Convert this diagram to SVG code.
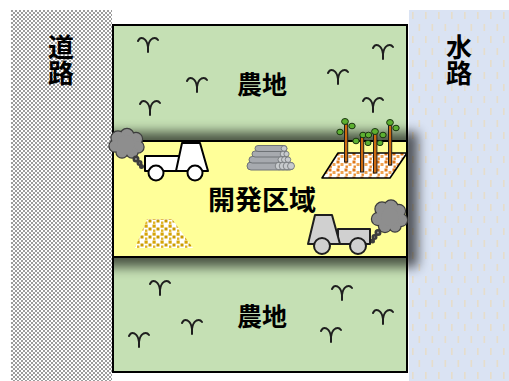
<svg xmlns="http://www.w3.org/2000/svg" width="509" height="381" viewBox="0 0 509 381">
  <defs>
    <pattern id="checker" x="11" y="10" width="4" height="4" patternUnits="userSpaceOnUse">
      <rect width="4" height="4" fill="#ffffff"/>
      <rect width="2" height="2" fill="#9c9c9c"/>
      <rect x="2" y="2" width="2" height="2" fill="#9c9c9c"/>
    </pattern>
    <pattern id="ripple" x="409" y="10" width="13" height="24" patternUnits="userSpaceOnUse">
      <rect width="13" height="24" fill="#dae3f3"/>
      <rect x="3" y="2" width="1.6" height="7" fill="#e6ddcb"/>
      <rect x="9.5" y="14" width="1.6" height="7" fill="#e6ddcb"/>
    </pattern>
    <pattern id="soil" width="8" height="8" patternUnits="userSpaceOnUse">
      <rect width="8" height="8" fill="#ffffff"/>
      <rect x="0.5" y="0.5" width="3" height="3" fill="#e07818"/>
      <rect x="4.5" y="3" width="3" height="3" fill="#f0a452"/>
      <rect x="1.5" y="5.5" width="2.4" height="2.4" fill="#e88a2c"/>
    </pattern>
    <pattern id="sand" width="8" height="8" patternUnits="userSpaceOnUse">
      <rect width="8" height="8" fill="#ffffff"/>
      <rect x="0.5" y="0.5" width="3.2" height="3.2" fill="#d6a406"/>
      <rect x="4.5" y="3.5" width="3" height="3" fill="#c99a00"/>
      <rect x="1" y="5.5" width="2.4" height="2.4" fill="#e0b424"/>
    </pattern>
    <filter id="soft" x="-20%" y="-30%" width="140%" height="160%">
      <feGaussianBlur stdDeviation="6"/>
    </filter>
    <path id="tuft" d="M0,8 V1 M-10,-3 Q-8,-7 -4.5,-5.5 Q-0.5,-3 0,3 M10,-4 Q8,-7 4.5,-5.5 Q0.5,-3 0,3"/>
  </defs>
  <style>
    .label { font-family: "Noto Sans CJK JP", "Noto Sans CJK SC", sans-serif; font-weight: 700; fill: #000; text-anchor: middle; }
    .vlabel { writing-mode: vertical-rl; }
    .tuft { fill: none; stroke: #1e1e1e; stroke-width: 2; stroke-linecap: round; }
    .truck-w { fill: #ffffff; stroke: #000; stroke-width: 2; stroke-linejoin: round; }
    .truck-g { fill: #d0d0d0; stroke: #1e1e1e; stroke-width: 2; stroke-linejoin: round; }
    .smoke-o { fill: #8e8e8e; stroke: #3c3c3c; stroke-width: 2.4; }
    .smoke-f { fill: #8e8e8e; }
    .log { fill: #a7aaaf; stroke: #6e7276; stroke-width: 1; }
    .logend { fill: #c8cbce; stroke: #6e7276; stroke-width: 0.8; }
    .trunk { fill: #cc6a10; stroke: #1e1e1e; stroke-width: 1; }
    .leaf { fill: #5cb030; stroke: #1a3510; stroke-width: 1; }
  </style>

  <rect width="509" height="381" fill="#ffffff"/>

  <!-- water channel -->
  <g id="waterway">
    <rect x="409" y="10" width="100" height="371" fill="url(#ripple)"/>
    <text class="label vlabel" x="459" y="60" font-size="26">水路</text>
  </g>

  <!-- farmland base -->
  <rect x="113" y="25" width="294" height="347" fill="#c5e0b4"/>

  <!-- shadow under the development band -->
  <rect x="100" y="132" width="318" height="135" fill="#000" opacity="0.62" filter="url(#soft)"/>

  <!-- development band -->
  <g id="dev-zone">
    <rect x="113" y="141" width="294" height="116" fill="#ffff99"/>
    <line x1="113" y1="141" x2="407" y2="141" stroke="#000" stroke-width="2"/>
    <line x1="113" y1="257" x2="407" y2="257" stroke="#000" stroke-width="2"/>
    <text class="label" x="262" y="210" font-size="27">開発区域</text>
  </g>

  <!-- road -->
  <g id="road">
    <rect x="11" y="10" width="101" height="371" fill="url(#checker)"/>
    <text class="label vlabel" x="61" y="60" font-size="26">道路</text>
  </g>

  <!-- field outline -->
  <rect x="113" y="25" width="294" height="347" fill="none" stroke="#000" stroke-width="2"/>

  <!-- upper farmland -->
  <g id="farm-top">
    <text class="label" x="262" y="94" font-size="25">農地</text>
    <use href="#tuft" class="tuft" x="148" y="44"/>
    <use href="#tuft" class="tuft" x="197" y="84"/>
    <use href="#tuft" class="tuft" x="150" y="107"/>
    <use href="#tuft" class="tuft" x="338" y="76"/>
    <use href="#tuft" class="tuft" x="383" y="51"/>
    <use href="#tuft" class="tuft" x="373" y="104"/>
  </g>

  <!-- lower farmland -->
  <g id="farm-bottom">
    <text class="label" x="262" y="326" font-size="25">農地</text>
    <use href="#tuft" class="tuft" x="160" y="287"/>
    <use href="#tuft" class="tuft" x="192" y="326"/>
    <use href="#tuft" class="tuft" x="139" y="339"/>
    <use href="#tuft" class="tuft" x="342" y="292"/>
    <use href="#tuft" class="tuft" x="383" y="316"/>
    <use href="#tuft" class="tuft" x="331" y="334"/>
  </g>

  <!-- white truck with exhaust -->
  <g id="truck-white">
    <g>
      <circle class="smoke-o" cx="118" cy="138" r="6.5"/>
      <circle class="smoke-o" cx="127" cy="135.5" r="6.5"/>
      <circle class="smoke-o" cx="136" cy="139" r="6"/>
      <circle class="smoke-o" cx="138" cy="147" r="5.5"/>
      <circle class="smoke-o" cx="132" cy="152" r="5.5"/>
      <circle class="smoke-o" cx="122" cy="152" r="5.5"/>
      <circle class="smoke-o" cx="115" cy="146" r="5.5"/>
      <circle class="smoke-f" cx="118" cy="138" r="6.5"/>
      <circle class="smoke-f" cx="127" cy="135.5" r="6.5"/>
      <circle class="smoke-f" cx="136" cy="139" r="6"/>
      <circle class="smoke-f" cx="138" cy="147" r="5.5"/>
      <circle class="smoke-f" cx="132" cy="152" r="5.5"/>
      <circle class="smoke-f" cx="122" cy="152" r="5.5"/>
      <circle class="smoke-f" cx="115" cy="146" r="5.5"/>
      <circle class="smoke-f" cx="126" cy="144" r="9"/>
      <circle class="smoke-o" cx="136" cy="159" r="2.3" stroke-width="1.2"/>
      <circle class="smoke-o" cx="139.5" cy="163" r="1.8" stroke-width="1.2"/>
      <circle class="smoke-o" cx="141.5" cy="166.5" r="1.3" stroke-width="1"/>
    </g>
    <rect class="truck-w" x="145" y="156" width="37" height="15"/>
    <path class="truck-w" d="M182,143 H200 L208,171 H176 Z"/>
    <circle class="truck-w" cx="156" cy="173" r="7.5"/>
    <circle class="truck-w" cx="195" cy="173" r="7.5"/>
  </g>

  <!-- pipe stack -->
  <g id="pipes">
    <rect class="log" x="247" y="162" width="47" height="8" rx="4"/>
    <rect class="log" x="249" y="156.5" width="41" height="6.5" rx="3.2"/>
    <rect class="log" x="252" y="151" width="36" height="6" rx="3"/>
    <rect class="log" x="255" y="145.5" width="32" height="6" rx="3"/>
    <circle class="logend" cx="284" cy="148.5" r="2.8"/>
    <circle class="logend" cx="283" cy="154" r="2.8"/>
    <circle class="logend" cx="286.5" cy="154" r="2.6"/>
    <circle class="logend" cx="281" cy="159.7" r="3"/>
    <circle class="logend" cx="284.5" cy="159.7" r="3"/>
    <circle class="logend" cx="288" cy="159.7" r="2.8"/>
    <circle class="logend" cx="279" cy="166" r="3.8"/>
    <circle class="logend" cx="283" cy="166" r="3.8"/>
    <circle class="logend" cx="287" cy="166" r="3.8"/>
    <circle class="logend" cx="291" cy="166" r="3.5"/>
  </g>

  <!-- cleared plot with standing trees -->
  <g id="tree-plot">
    <path d="M338,153 H407 L390,178 H322 Z" fill="url(#soil)" stroke="#000" stroke-width="1.6" stroke-linejoin="round"/>
    <rect class="trunk" x="344.5" y="124" width="3.2" height="38"/>
    <rect class="trunk" x="360.5" y="137" width="3.2" height="35"/>
    <rect class="trunk" x="373.5" y="133" width="3.4" height="40"/>
    <rect class="trunk" x="388.5" y="124" width="3.2" height="41"/>
    <ellipse class="leaf" cx="345" cy="121.5" rx="3.4" ry="3"/>
    <ellipse class="leaf" cx="340" cy="132" rx="3.2" ry="2.8"/>
    <ellipse class="leaf" cx="352" cy="126" rx="3.2" ry="2.8"/>
    <ellipse class="leaf" cx="356" cy="141" rx="3.2" ry="2.8"/>
    <ellipse class="leaf" cx="363" cy="135" rx="3.2" ry="2.8"/>
    <ellipse class="leaf" cx="368.5" cy="135" rx="3.2" ry="2.8"/>
    <ellipse class="leaf" cx="368" cy="143" rx="3" ry="2.6"/>
    <ellipse class="leaf" cx="375" cy="131.5" rx="3.4" ry="3"/>
    <ellipse class="leaf" cx="383" cy="135" rx="3.2" ry="2.8"/>
    <ellipse class="leaf" cx="380" cy="143" rx="3" ry="2.6"/>
    <ellipse class="leaf" cx="390" cy="122.5" rx="3.4" ry="3"/>
    <ellipse class="leaf" cx="396" cy="128" rx="3.2" ry="2.8"/>
  </g>

  <!-- sand heap -->
  <g id="sand-heap">
    <path d="M147,219 H172 L193,248 H135 Z" fill="url(#sand)"/>
  </g>

  <!-- grey truck with exhaust -->
  <g id="truck-grey">
    <g>
      <circle class="smoke-o" cx="382" cy="209" r="6.5"/>
      <circle class="smoke-o" cx="391" cy="207" r="6.5"/>
      <circle class="smoke-o" cx="399" cy="211" r="6"/>
      <circle class="smoke-o" cx="401" cy="220" r="6"/>
      <circle class="smoke-o" cx="395" cy="226" r="5.5"/>
      <circle class="smoke-o" cx="385" cy="226" r="6"/>
      <circle class="smoke-o" cx="378" cy="219" r="6"/>
      <circle class="smoke-f" cx="382" cy="209" r="6.5"/>
      <circle class="smoke-f" cx="391" cy="207" r="6.5"/>
      <circle class="smoke-f" cx="399" cy="211" r="6"/>
      <circle class="smoke-f" cx="401" cy="220" r="6"/>
      <circle class="smoke-f" cx="395" cy="226" r="5.5"/>
      <circle class="smoke-f" cx="385" cy="226" r="6"/>
      <circle class="smoke-f" cx="378" cy="219" r="6"/>
      <circle class="smoke-f" cx="390" cy="217" r="9"/>
      <circle class="smoke-o" cx="378" cy="232.5" r="2.3" stroke-width="1.2"/>
      <circle class="smoke-o" cx="374.5" cy="237" r="1.8" stroke-width="1.2"/>
      <circle class="smoke-o" cx="372.5" cy="241" r="1.3" stroke-width="1"/>
    </g>
    <rect class="truck-g" x="338" y="229" width="32" height="15"/>
    <path class="truck-g" d="M315,215 H332 L340,244 H308 Z"/>
    <circle class="truck-g" cx="322" cy="246" r="8"/>
    <circle class="truck-g" cx="358" cy="246" r="8"/>
  </g>
</svg>
